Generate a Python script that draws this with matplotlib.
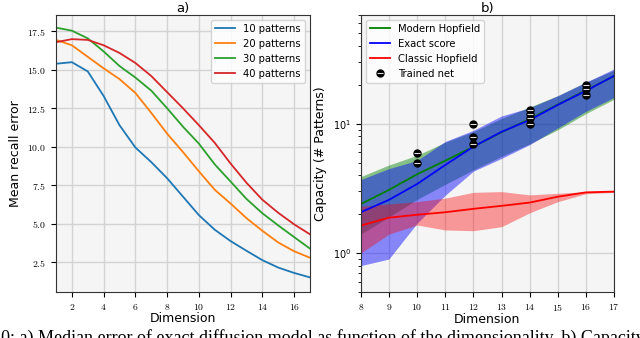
import matplotlib
matplotlib.use('Agg')
import matplotlib.pyplot as plt
from matplotlib.ticker import FuncFormatter, NullFormatter

plt.rcParams['mathtext.fontset'] = 'cm'

# a) mean recall error vs dimension
dims_a = [1, 2, 3, 4, 5, 6, 7, 8, 9, 10, 11, 12, 13, 14, 15, 16, 17]
err_10 = [15.4, 15.5, 14.9, 13.3, 11.4, 9.95, 9.0, 7.95, 6.75, 5.55, 4.6, 3.86, 3.23, 2.62, 2.14, 1.79, 1.5]
err_20 = [16.95, 16.6, 15.85, 15.1, 14.4, 13.5, 12.2, 10.85, 9.65, 8.4, 7.2, 6.3, 5.35, 4.53, 3.77, 3.2, 2.78]
err_30 = [17.75, 17.55, 17.05, 16.2, 15.25, 14.5, 13.65, 12.5, 11.3, 10.2, 8.85, 7.73, 6.6, 5.67, 4.88, 4.12, 3.37]
err_40 = [16.8, 17.0, 16.95, 16.6, 16.1, 15.45, 14.6, 13.55, 12.5, 11.4, 10.25, 8.9, 7.65, 6.55, 5.7, 4.95, 4.3]
labels_a = ['10 patterns', '20 patterns', '30 patterns', '40 patterns']

# b) capacity vs dimension
dims_b = [8, 9, 10, 11, 12, 13, 14, 15, 16, 17]
modern = [2.39, 3.08, 4.07, 5.18, 6.65, 8.6, 10.9, 14.1, 18.2, 23.4]
modern_lo = [1.4, 1.9, 2.6, 3.4, 4.4, 5.6, 7.0, 9.0, 12.0, 15.5]
modern_hi = [3.9, 4.8, 5.7, 7.2, 8.7, 11.0, 13.5, 16.5, 21.0, 26.0]
exact = [2.07, 2.58, 3.42, 4.8, 6.65, 8.67, 10.7, 14.0, 18.0, 23.5]
exact_lo = [0.8, 0.9, 1.7, 2.8, 4.3, 5.4, 6.9, 9.3, 12.5, 16.0]
exact_hi = [3.7, 4.5, 5.2, 7.3, 8.9, 11.5, 13.3, 16.5, 21.0, 26.6]
classic = [1.63, 1.88, 1.98, 2.07, 2.2, 2.32, 2.46, 2.73, 2.95, 2.99]
classic_lo = [1.0, 1.4, 1.65, 1.51, 1.49, 1.6, 2.05, 2.5, 2.88, 2.95]
classic_hi = [2.3, 2.4, 2.5, 2.66, 2.95, 2.99, 2.82, 2.9, 2.99, 3.02]
net_x = [10, 10, 12, 12, 12, 14, 14, 14, 14, 16, 16, 16]
net_y = [5.93, 5.0, 10.0, 7.95, 6.97, 12.9, 12.0, 11.1, 10.0, 19.9, 18.6, 16.7]

fig = plt.figure(figsize=(6.4, 3.38), dpi=100)
bg = '#f5f5f5'
gridc = '#d3d3d3'

ax1 = fig.add_axes([0.0875, 0.136, 0.397, 0.821])
ax1.set_facecolor(bg)
for y, lab, c in zip([err_10, err_20, err_30, err_40], labels_a,
                     ['#1f77b4', '#ff7f0e', '#2ca02c', '#d62728']):
    ax1.plot(dims_a, y, color=c, lw=1.3, label=lab)
ax1.set_xlim(1, 17)
ax1.set_ylim(0.55, 18.6)
ax1.set_xticks([2, 4, 6, 8, 10, 12, 14, 16])
ax1.set_yticks([2.5, 5.0, 7.5, 10.0, 12.5, 15.0, 17.5])
ax1.xaxis.set_major_formatter(FuncFormatter(lambda v, p: '$%d$' % v))
ax1.yaxis.set_major_formatter(FuncFormatter(lambda v, p: '$%.1f$' % v))
ax1.grid(True, color=gridc, lw=1.0)
ax1.set_axisbelow(True)
ax1.tick_params(labelsize=7)
ax1.set_xlabel('Dimension', fontsize=9, labelpad=0)
ax1.set_ylabel('Mean recall error', fontsize=9)
ax1.set_title('a)', fontsize=9.5, pad=1)
ax1.legend(loc='upper right', fontsize=7.2, framealpha=0.8)
for s in ax1.spines.values():
    s.set_color('#333333')

ax2 = fig.add_axes([0.5636, 0.136, 0.396, 0.821])
ax2.set_facecolor(bg)
ax2.set_yscale('log')
ax2.fill_between(dims_b, modern_lo, modern_hi, color='green', alpha=0.45, lw=0)
ax2.fill_between(dims_b, exact_lo, exact_hi, color='blue', alpha=0.45, lw=0)
ax2.fill_between(dims_b, classic_lo, classic_hi, color='red', alpha=0.38, lw=0)
ax2.plot(dims_b, modern, color='green', lw=1.3, label='Modern Hopfield')
ax2.plot(dims_b, exact, color='blue', lw=1.3, label='Exact score')
ax2.plot(dims_b, classic, color='red', lw=1.3, label='Classic Hopfield')
dots, = ax2.plot(net_x, net_y, 'o', color='black', ms=5, zorder=5)
bars, = ax2.plot(net_x, net_y, '_', color='#dddddd', ms=4, mew=0.8, zorder=6)
ax2.set_xlim(8, 17)
ax2.set_ylim(0.5, 70)
ax2.set_xticks(dims_b)
ax2.xaxis.set_major_formatter(FuncFormatter(lambda v, p: '$%d$' % v))
ax2.yaxis.set_minor_formatter(NullFormatter())
ax2.grid(True, which='major', color=gridc, lw=1.0)
ax2.set_axisbelow(True)
ax2.tick_params(labelsize=7)
ax2.set_xlabel('Dimension', fontsize=9, labelpad=0)
ax2.set_ylabel('Capacity (# Patterns)', fontsize=9)
ax2.set_title('b)', fontsize=9.5, pad=1)
h, l = ax2.get_legend_handles_labels()
ax2.legend(h + [(dots, bars)], l + ['Trained net'], loc='upper left',
           fontsize=7.2, framealpha=0.8)
for s in ax2.spines.values():
    s.set_color('#333333')

fig.text(-0.012, -0.028, '10: a) Median error of exact diffusion model as function of the dimensionality. b) Capacity',
         fontsize=13, family='Liberation Serif', ha='left', va='bottom')

fig.savefig('out.png', dpi=100)
